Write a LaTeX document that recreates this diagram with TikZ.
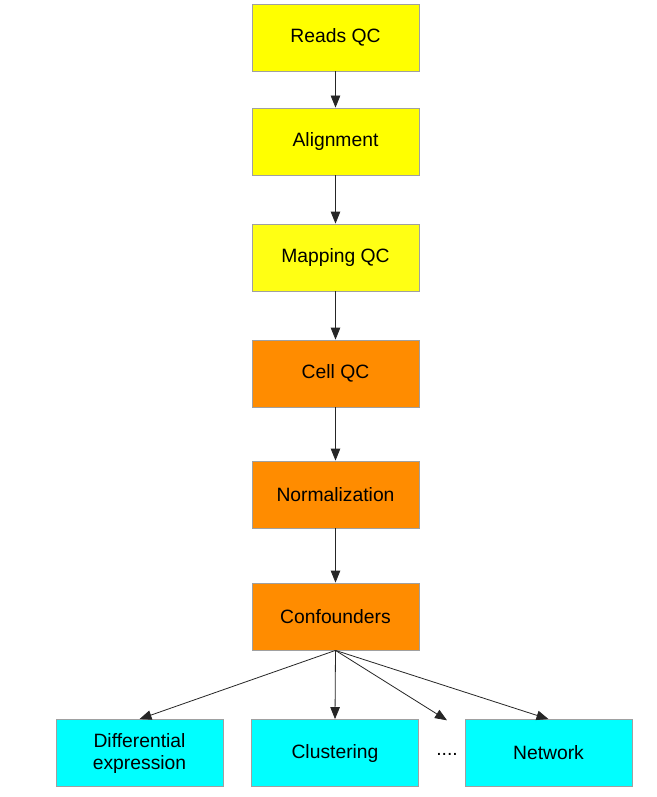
\documentclass[tikz,border=0pt]{standalone}
\usepackage{fontspec}
\setmainfont{Liberation Sans}
\usetikzlibrary{arrows.meta}
\definecolor{ylw}{HTML}{FFFF00}
\definecolor{org}{HTML}{FF8C00}
\definecolor{cyn}{HTML}{00FFFF}
\definecolor{edge}{HTML}{A0A0A0}
\tikzset{
  box/.style={draw=edge, line width=0.8pt, minimum width=167pt, minimum height=67pt,
    inner sep=0pt, align=center, font=\fontsize{19.3}{22}\selectfont},
  conn/.style={draw=black!85, line width=0.8pt, -{Triangle[length=12pt,width=9.5pt]}}
}
\begin{document}
\begin{tikzpicture}[x=1pt,y=-1pt]
\useasboundingbox (0,0) rectangle (656,797);
\fill[white] (0,0) rectangle (656,797);
\node[box, fill=ylw] (reads) at (335.5,37.5) {Reads QC};
\node[box, fill=ylw] (align) at (335.5,141.5) {Alignment};
\node[box, fill=ylw!92!white] (map) at (335.5,257.5) {Mapping QC};
\node[box, fill=org] (cell) at (335.5,373.5) {Cell QC};
\node[box, fill=org] (norm) at (335.5,494.5) {Normalization};
\node[box, fill=org] (conf) at (335.5,616.5) {Confounders};
\node[box, fill=cyn] (diff) at (139.5,753) {Differential\\expression};
\node[box, fill=cyn] (clus) at (335,753) {Clustering};
\node[box, fill=cyn] (net) at (548.5,753) {Network};
\node[minimum width=10pt, minimum height=67pt, inner sep=0pt, font=\fontsize{19.3}{22}\selectfont] (dots) at (447,754) {....};
\draw[conn] (reads) -- (align);
\draw[conn] (align) -- (map);
\draw[conn] (map) -- (cell);
\draw[conn] (cell) -- (norm);
\draw[conn] (norm) -- (conf);
\draw[conn] (conf.south) -- (diff.north);
\draw[conn] (conf.south) -- (clus.north);
\draw[conn] (conf.south) -- (dots.north);
\draw[conn] (conf.south) -- (net.north);
\end{tikzpicture}
\end{document}
